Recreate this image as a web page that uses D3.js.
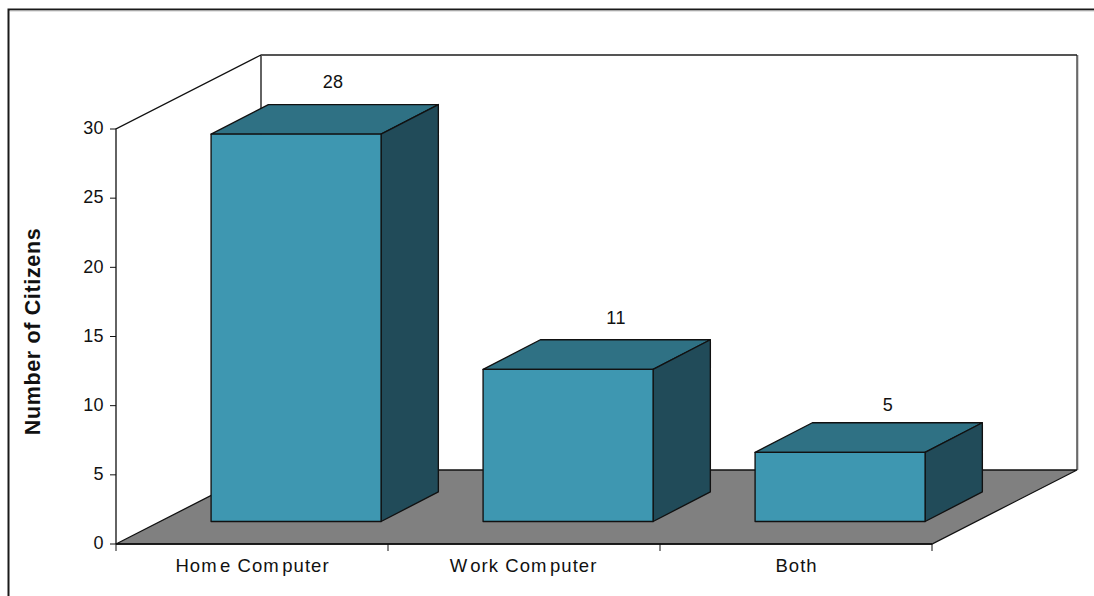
<!DOCTYPE html>
<html><head><meta charset="utf-8">
<script src="https://cdn.jsdelivr.net/npm/d3@7/dist/d3.min.js"></script>
<style>html,body{margin:0;padding:0;background:#fff}svg{display:block}text{font-family:"Liberation Sans",Arial,sans-serif;fill:#111}</style>
</head><body><svg id="c" width="1094" height="596"></svg>
<script>
const categories = ["Home Computer", "Work Computer", "Both"];
const values = [28, 11, 5];
const yTicks = [0, 5, 10, 15, 20, 25, 30];
const yTitle = "Number of Citizens";
const colors = {front: "#3e97b1", top: "#2f7184", side: "#214b59", floor: "#808080"};
const labelNudge = [[-11, 1], [0, 2], [0, 6]];

const svg = d3.select("#c");
const x = d3.scaleBand().domain(categories).range([116, 932]).paddingInner(0.375).paddingOuter(0.1875);
const y = d3.scaleLinear().domain([0, 30]).range([544, 129]);
const wallDx = 145, wallDy = -74;
const frontF = 0.304, barFx = 0.395, barFy = 0.4;
const poly = pts => "M" + pts.map(p => p.join(",")).join("L");
const path = pts => poly(pts) + "Z";
const dk = "#111";

svg.append("path").attr("d", "M8.5,596V9.5H1094").attr("fill", "none").attr("stroke", "#1a1a1a").attr("stroke-width", 2);
svg.append("line").attr("x1", 10).attr("x2", 1094).attr("y1", 10.9).attr("y2", 10.9).attr("stroke", "#bbb").attr("stroke-width", 1);

const x0 = x.range()[0], x1 = x.range()[1], y0 = y(0), yT = y(30);
// floor
svg.append("path").attr("d", path([[x0,y0],[x1,y0],[x1+wallDx,y0+wallDy],[x0+wallDx,y0+wallDy]]))
  .attr("fill", colors.floor).attr("stroke", dk).attr("stroke-width", 1.3);
// walls
svg.append("path").attr("d", poly([[x0,y0],[x0,yT],[x0+wallDx,yT+wallDy],[x0+wallDx,y0+wallDy]])).attr("fill", "none").attr("stroke", dk).attr("stroke-width", 1.3);
svg.append("line").attr("x1", x0+wallDx).attr("x2", x1+wallDx).attr("y1", yT+wallDy).attr("y2", yT+wallDy).attr("stroke", "#555").attr("stroke-width", 1.8);
svg.append("line").attr("x1", x1+wallDx+1).attr("x2", x1+wallDx+1).attr("y1", yT+wallDy).attr("y2", y0+wallDy).attr("stroke", "#aaa").attr("stroke-width", 1);
svg.append("line").attr("x1", x1+wallDx).attr("x2", x1+wallDx).attr("y1", yT+wallDy).attr("y2", y0+wallDy).attr("stroke", dk).attr("stroke-width", 1.1);
svg.append("line").attr("x1", x0).attr("x2", x1).attr("y1", y0).attr("y2", y0).attr("stroke", dk).attr("stroke-width", 1.6);

// y axis ticks
const gy = svg.append("g");
gy.selectAll("line").data(yTicks).join("line").attr("x1", x0-6).attr("x2", x0).attr("y1", d=>y(d)).attr("y2", d=>y(d)).attr("stroke", dk);
gy.selectAll("text").data(yTicks).join("text").attr("x", x0-12).attr("y", d=>y(d)+0.5).attr("text-anchor","end").attr("dominant-baseline","middle").attr("font-size",18).attr("letter-spacing",0.4).text(d=>d);
// x ticks
const xt = [x0, ...categories.map(c => x(c) + x.bandwidth()/2 + x.step()/2)];
svg.selectAll(".xt").data(xt).join("line").attr("class","xt").attr("x1",d=>d).attr("x2",d=>d).attr("y1",y0).attr("y2",y0+7).attr("stroke",dk);
// category labels: the source spaces glyphs unevenly, so each character gets its own gap
const gap = (ch, i, s) => i === 0 ? 0 : 1.05 + ("mW".includes(s[i-1]) ? 2.4 : 0);
svg.selectAll(".cat").data(categories).join("text").attr("class","cat")
  .attr("x", c => x(c)+x.bandwidth()/2 - (c === "Work Computer" ? 1 : 0)).attr("y", 572).attr("text-anchor","middle").attr("font-size",18.5)
  .attr("dx", c => [...c].map((ch,i)=>gap(ch,i,c)).join(" ")).text(c=>c);

// bars
const shX = wallDx*frontF, shY = wallDy*frontF, dX = wallDx*barFx, dY = wallDy*barFy;
const g = svg.selectAll(".bar").data(categories.map((c,i)=>({c,v:values[i],n:labelNudge[i]}))).join("g").attr("class","bar");
g.each(function(d){
  const s = d3.select(this);
  const l = x(d.c)+shX, r = l+x.bandwidth(), b = y(0)+shY, t = y(d.v)+shY;
  const st = sel => sel.attr("stroke", dk).attr("stroke-width", 1.35).attr("stroke-linejoin","round");
  s.append("path").attr("d", path([[l,t],[r,t],[r+dX,t+dY],[l+dX,t+dY]])).attr("fill", colors.top).call(st);
  s.append("path").attr("d", path([[r,t],[r+dX,t+dY],[r+dX,b+dY],[r,b]])).attr("fill", colors.side).call(st);
  s.append("path").attr("d", path([[l,t],[r,t],[r,b],[l,b]])).attr("fill", colors.front).call(st);
  s.append("text").attr("x",(l+r)/2+48+d.n[0]).attr("y",t+dY-18+d.n[1]).attr("text-anchor","middle").attr("font-size",18).attr("letter-spacing",0.4).text(d.v);
});

svg.append("text").attr("transform","translate(39.5,331.5) rotate(-90)").attr("text-anchor","middle").attr("font-size",21.5).attr("font-weight","bold").attr("letter-spacing",0.65).text(yTitle);
</script></body></html>
